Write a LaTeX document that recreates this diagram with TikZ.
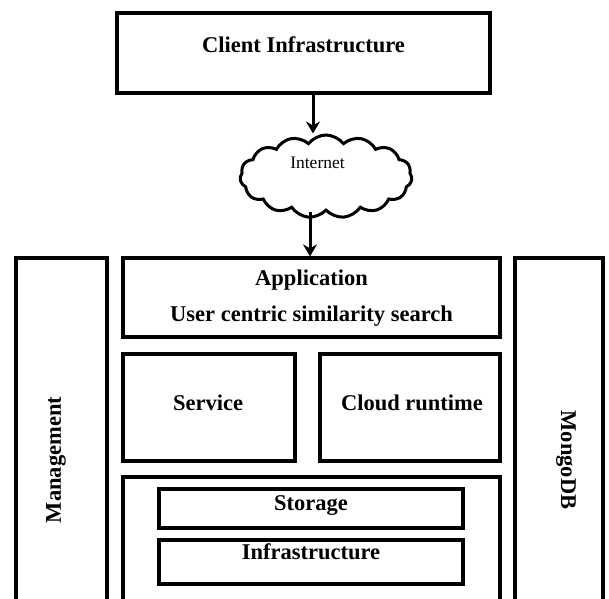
\documentclass[tikz,border=0pt]{standalone}
\usepackage{fontspec}
\setmainfont{Liberation Serif}
\usetikzlibrary{shapes.symbols,arrows.meta}
\begin{document}
\begin{tikzpicture}[x=1pt,y=-1pt,
 box/.style={draw,line width=3.2pt,inner sep=0pt},
 lbl/.style={font=\fontsize{22.5}{36}\selectfont\bfseries,align=center,inner sep=0pt},
 arr/.style={line width=3pt,-{Stealth[length=12pt,width=14pt]}}]
\useasboundingbox (0,0) rectangle (609,598);
\clip (0,0) rectangle (609,598);
% top
\node[box,minimum width=373pt,minimum height=80pt] (client) at (303.5,53) {};
\node[lbl] (clientlbl) at (303.5,45) {Client Infrastructure};
\node[cloud,draw,line width=3pt,cloud puffs=15,cloud puff arc=105,cloud ignores aspect,minimum width=172pt,minimum height=83pt,inner sep=0pt] (inet) at (326,176.5) {};
\node[font=\fontsize{17.5}{20}\selectfont,inner sep=0pt] (inetlbl) at (317.5,163) {Internet};
% side columns
\node[box,minimum width=91pt,minimum height=404pt] (mgmt) at (61.5,460) {};
\node[lbl,rotate=90] (mgmtlbl) at (56,460) {Management};
\node[box,minimum width=88pt,minimum height=404pt] (mongo) at (559,460) {};
\node[lbl,rotate=-90] (mongolbl) at (566,460) {MongoDB};
% application
\node[box,minimum width=377pt,minimum height=79pt] (app) at (311.5,297.5) {};
\node[lbl] (applbl) at (311.5,298) {Application\\User centric similarity search};
% service / runtime
\node[box,minimum width=172pt,minimum height=107pt] (svc) at (209,407.5) {};
\node[lbl] (svclbl) at (208,403) {Service};
\node[box,minimum width=180pt,minimum height=107pt] (rt) at (410,407.5) {};
\node[lbl] (rtlbl) at (412,403) {Cloud runtime};
% lower
\node[box,minimum width=377pt,minimum height=143pt] (low) at (311.5,548.5) {};
\node[box,minimum width=304pt,minimum height=39pt] (stor) at (311,508.5) {};
\node[lbl] (storlbl) at (311,506) {Storage};
\node[box,minimum width=304pt,minimum height=44pt] (infra) at (311,562) {};
\node[lbl] (infralbl) at (311,552) {Infrastructure};
% arrows
\coordinate (ax) at (313,0);
\coordinate (bx) at (310,0);
\draw[arr] (client.south -| ax) -- (inet.north -| ax);
\draw[arr] (inet.south -| bx) -- (app.north -| bx);
\end{tikzpicture}
\end{document}
